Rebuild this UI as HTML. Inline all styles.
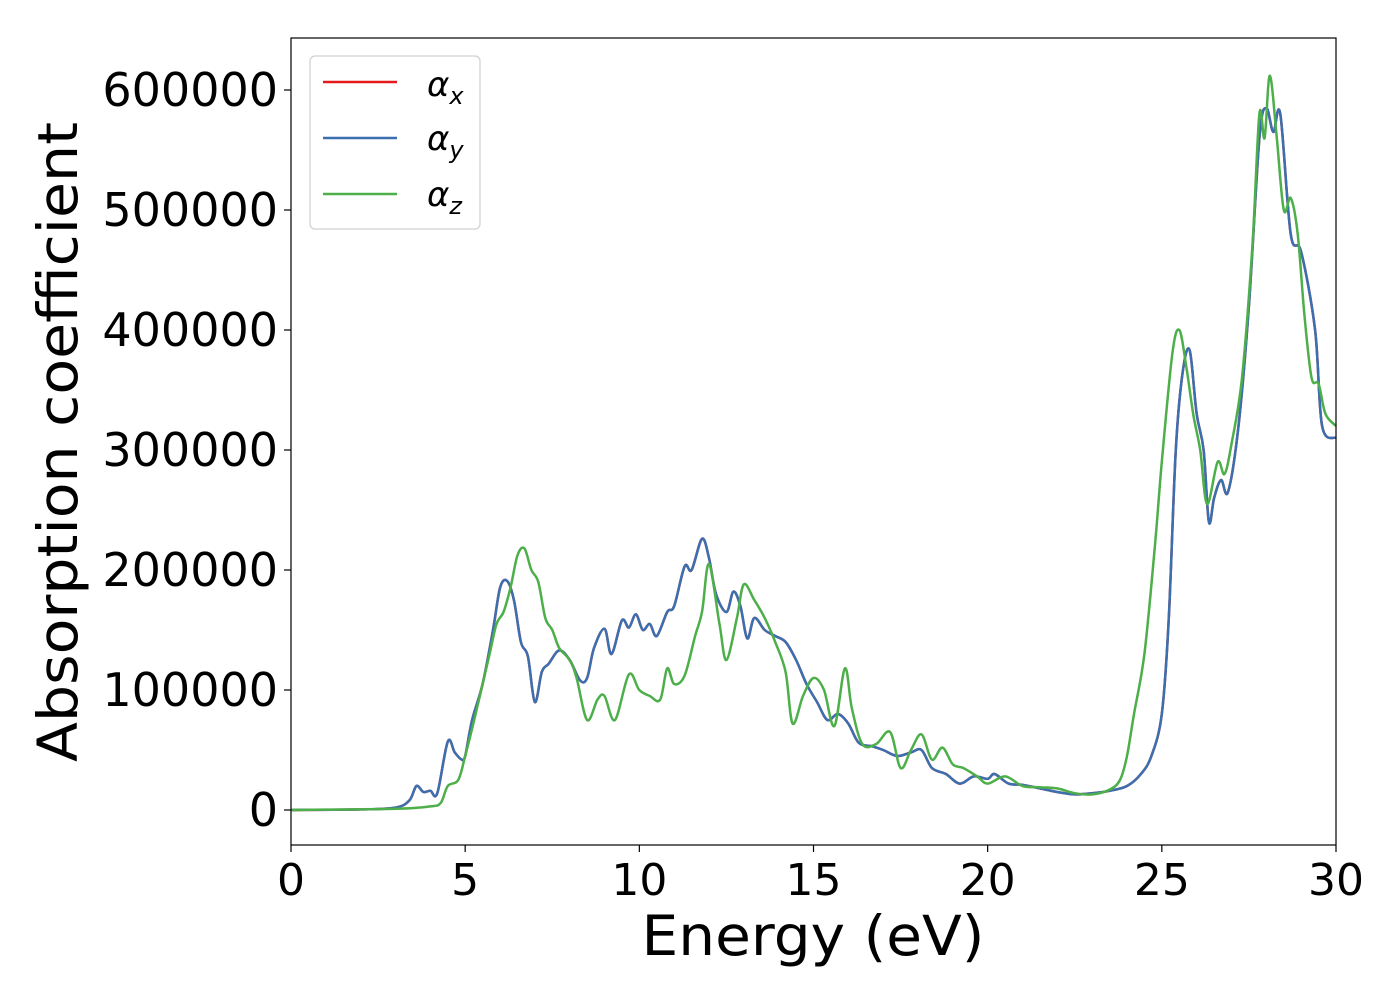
<!DOCTYPE html>
<html><head><meta charset="utf-8"><style>
body{margin:0;background:#fff;}
svg{display:block;font-family:"DejaVu Sans","Liberation Sans",sans-serif;}
</style></head><body>
<svg id="chart" width="1400" height="1000" viewBox="0 0 1400 1000" xmlns="http://www.w3.org/2000/svg">
<rect width="1400" height="1000" fill="#fff"/>
<g id="series"></g>
<rect x="291" y="38" width="1045" height="807" fill="none" stroke="#000" stroke-width="1.2"/>
<g id="xticks"></g>
<g id="yticks"></g>
<text x="813" y="955" font-size="55" text-anchor="middle" textLength="343" lengthAdjust="spacingAndGlyphs">Energy (eV)</text>
<text transform="translate(77,442) rotate(-90)" font-size="55" text-anchor="middle" textLength="640" lengthAdjust="spacingAndGlyphs">Absorption coefficient</text>
<g>
<rect x="310" y="56" width="170" height="173" rx="5" fill="#fff" stroke="#ccc" stroke-width="1.2" opacity="0.9"/>
<line x1="323" y1="82" x2="397" y2="82" stroke="#e41a1c" stroke-width="2.5"/>
<text x="427" y="96" font-size="34" font-style="italic">α<tspan font-size="24" dy="8">x</tspan></text>
<line x1="323" y1="138" x2="397" y2="138" stroke="#3a6fb0" stroke-width="2.5"/>
<text x="427" y="150" font-size="34" font-style="italic">α<tspan font-size="24" dy="8">y</tspan></text>
<line x1="323" y1="194" x2="397" y2="194" stroke="#4daf4a" stroke-width="2.5"/>
<text x="427" y="206" font-size="34" font-style="italic">α<tspan font-size="24" dy="8">z</tspan></text>
</g>
</svg>
<script>
const xTicks=[0,5,10,15,20,25,30];
const yTicks=[0,100000,200000,300000,400000,500000,600000];
const energyXY=[0,2,3,3.4,3.6,3.8,4.0,4.2,4.5,4.7,4.9,5.0,5.2,5.5,5.8,6.0,6.2,6.4,6.6,6.8,7.0,7.2,7.4,7.7,8.0,8.3,8.5,8.7,9.0,9.2,9.5,9.7,9.9,10.1,10.3,10.5,10.8,11.0,11.3,11.5,11.8,12.0,12.2,12.5,12.7,12.9,13.1,13.3,13.6,13.9,14.2,14.5,14.8,15.1,15.4,15.7,16.0,16.3,16.7,17.0,17.4,17.8,18.1,18.4,18.8,19.2,19.6,20.0,20.2,20.6,21.0,21.5,22.0,22.5,23.0,23.5,24.0,24.4,24.7,25.0,25.2,25.4,25.6,25.8,26.0,26.2,26.35,26.5,26.7,26.9,27.2,27.5,27.8,28.0,28.2,28.4,28.7,29.0,29.4,29.6,30];
const alphaX=[0,500,2000,8000,20000,15000,16000,14000,57000,48000,42000,45000,75000,105000,150000,185000,191000,175000,140000,128000,90000,115000,122000,133000,125000,108000,110000,135000,151000,130000,158000,152000,163000,150000,155000,145000,165000,170000,203000,200000,226000,210000,180000,165000,182000,170000,143000,160000,150000,145000,140000,125000,105000,90000,75000,80000,72000,56000,53000,50000,45000,48000,50000,35000,30000,22000,28000,26000,30000,22000,21000,18000,15000,13000,14000,16000,20000,30000,45000,80000,160000,300000,365000,383000,330000,300000,240000,260000,275000,265000,320000,420000,560000,585000,565000,580000,480000,465000,400000,320000,310000];
const alphaY=alphaX.slice();
const energyZ=[0,3,4,4.3,4.5,4.8,5.0,5.3,5.7,5.9,6.1,6.3,6.5,6.7,6.9,7.1,7.3,7.5,7.7,8.0,8.2,8.5,8.8,9.0,9.3,9.7,10.0,10.3,10.6,10.8,11.0,11.3,11.6,11.8,12.0,12.3,12.5,12.8,13.0,13.3,13.6,13.9,14.2,14.4,14.7,15.0,15.3,15.6,15.9,16.1,16.4,16.8,17.2,17.5,17.8,18.1,18.4,18.7,19.0,19.3,19.7,20.0,20.5,21.0,21.5,22.0,22.5,23.0,23.5,23.8,24.0,24.2,24.5,24.8,25.0,25.3,25.5,25.7,25.9,26.1,26.3,26.6,26.8,27.0,27.3,27.6,27.8,27.95,28.1,28.3,28.5,28.7,28.9,29.1,29.3,29.5,29.7,30];
const alphaZ=[0,1000,3000,6000,20000,25000,45000,80000,130000,155000,165000,185000,212000,218000,200000,190000,160000,150000,135000,125000,110000,75000,92000,95000,75000,113000,100000,95000,92000,118000,105000,112000,145000,165000,205000,155000,125000,160000,188000,175000,160000,140000,115000,72000,95000,110000,100000,70000,118000,85000,55000,55000,65000,35000,50000,63000,42000,52000,38000,35000,28000,22000,28000,20000,19000,18000,14000,13000,17000,25000,45000,80000,130000,220000,290000,380000,400000,370000,330000,300000,255000,290000,280000,305000,360000,470000,580000,560000,612000,560000,500000,510000,480000,410000,360000,355000,330000,320000];

const X0=291,X1=1336,Y0=810,YS=720/600000;
function xs(v){return X0+(X1-X0)*v/30;}
function ys(v){return Y0-v*YS;}
const NS="http://www.w3.org/2000/svg";
function mk(t,a){const e=document.createElementNS(NS,t);for(const k in a)e.setAttribute(k,a[k]);return e;}
function pathD(ex,vals){
  const p=ex.map((e,i)=>[xs(e),ys(vals[i])]);
  let d="M"+p[0][0].toFixed(1)+","+p[0][1].toFixed(1);
  for(let i=0;i<p.length-1;i++){
    const a=p[Math.max(0,i-1)],b=p[i],c=p[i+1],n=p[Math.min(p.length-1,i+2)];
    const c1=[b[0]+(c[0]-a[0])/6,b[1]+(c[1]-a[1])/6],c2=[c[0]-(n[0]-b[0])/6,c[1]-(n[1]-b[1])/6];
    d+="C"+c1[0].toFixed(1)+","+c1[1].toFixed(1)+" "+c2[0].toFixed(1)+","+c2[1].toFixed(1)+" "+c[0].toFixed(1)+","+c[1].toFixed(1);
  }
  return d;
}
const g=document.getElementById("series");
const lines=[["line-alpha-x",energyXY,alphaX,"#e41a1c"],["line-alpha-y",energyXY,alphaY,"#3a6fb0"],["line-alpha-z",energyZ,alphaZ,"#4daf4a"]];
lines.forEach(l=>{
  const p=mk("path",{d:pathD(l[1],l[2]),fill:"none",stroke:l[3],"stroke-width":2.5,"stroke-linejoin":"round"});
  
  
  g.appendChild(p);
});
const xg=document.getElementById("xticks");
xTicks.forEach(t=>{
  const x=xs(t);
  const ln=mk("line",{x1:x,y1:845,x2:x,y2:852,stroke:"#000","stroke-width":1.2});
  
  
  xg.appendChild(ln);
  const tx=mk("text",{x:x,y:895,"font-size":44,"text-anchor":"middle"});
  
  
  tx.textContent=t;xg.appendChild(tx);
});
const yg=document.getElementById("yticks");
yTicks.forEach(t=>{
  const y=ys(t);
  const ln=mk("line",{x1:284,y1:y,x2:291,y2:y,stroke:"#000","stroke-width":1.2});
  
  
  yg.appendChild(ln);
  const tx=mk("text",{x:278,y:y+16,"font-size":46,"text-anchor":"end"});
  
  
  tx.textContent=t;yg.appendChild(tx);
});
</script>
</body></html>
